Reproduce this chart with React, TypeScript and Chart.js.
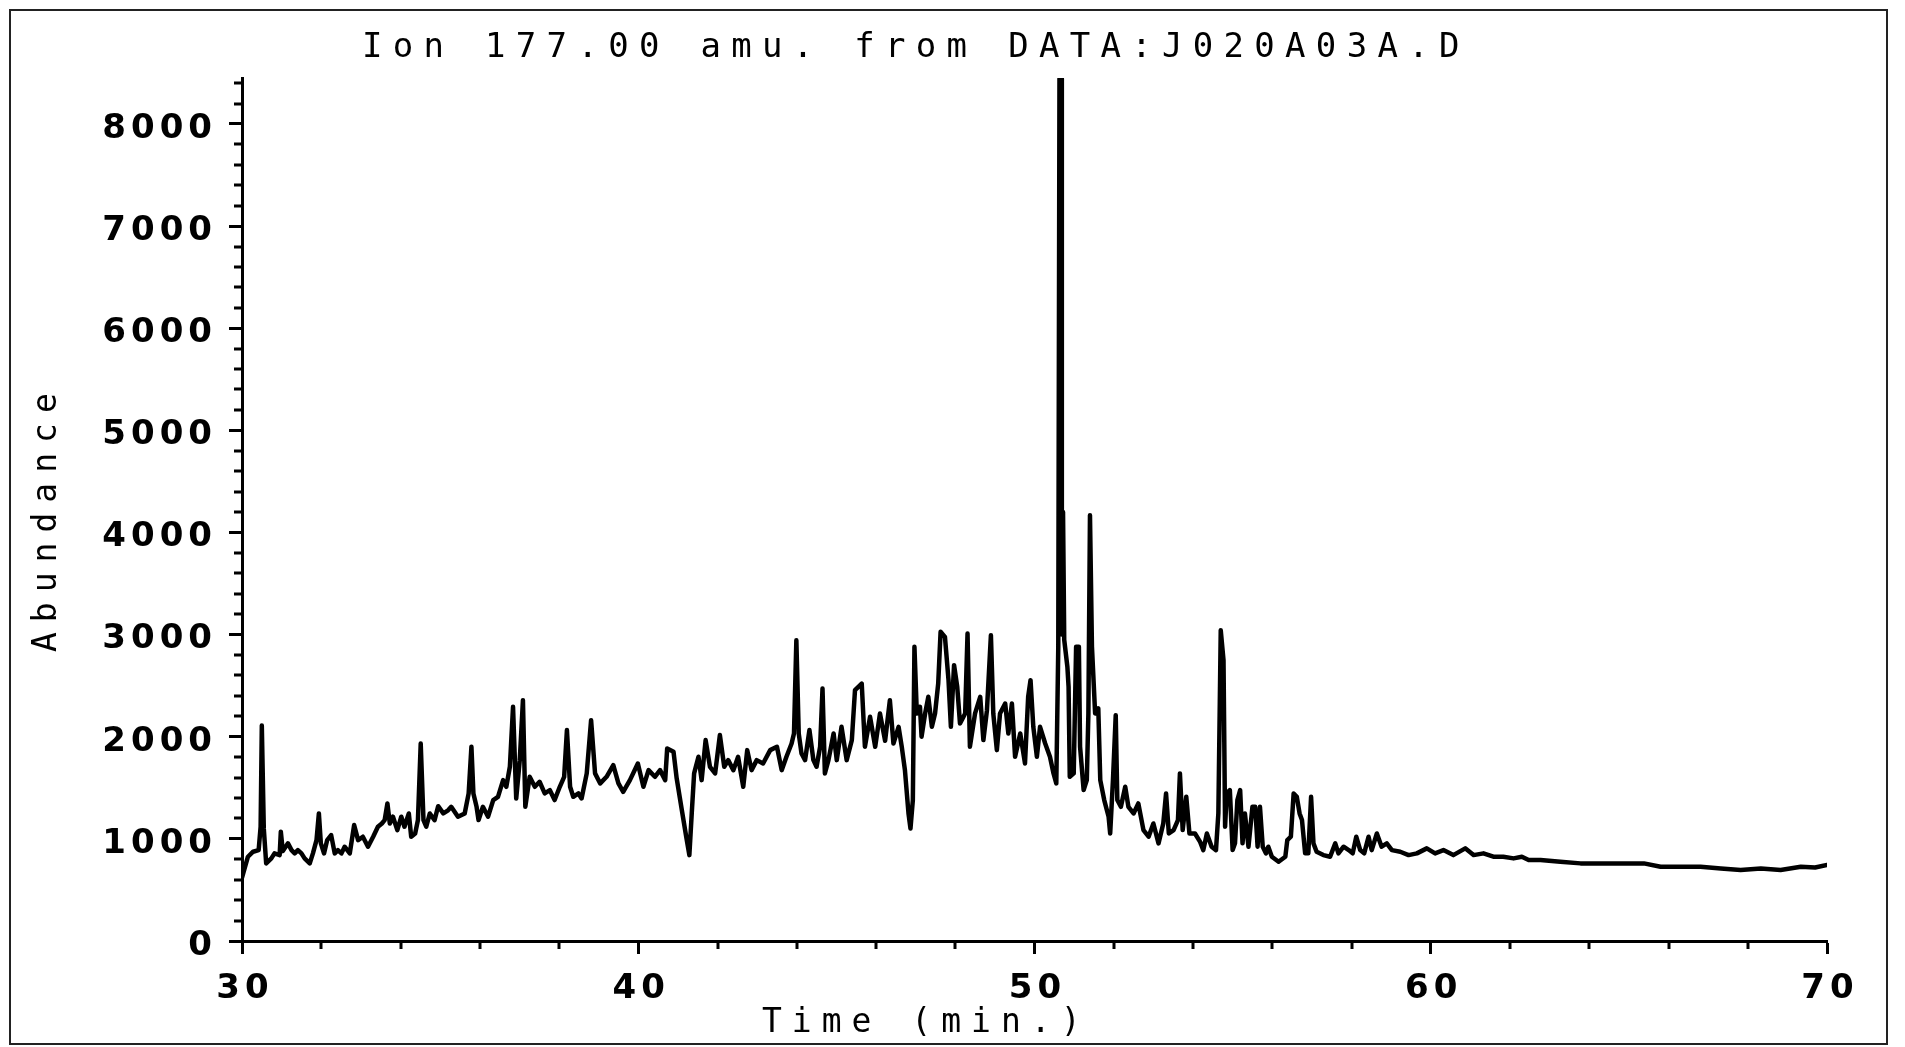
import React, { useEffect, useRef } from "react";
import { Chart, registerables } from "chart.js";

Chart.register(...registerables);

const TITLE = "Ion 177.00 amu. from DATA:J020A03A.D";
const X_TITLE = "Time (min.)";
const Y_TITLE = "Abundance";
const X_TICKS = [30, 40, 50, 60, 70];
const Y_TICKS = [0, 1000, 2000, 3000, 4000, 5000, 6000, 7000, 8000];
const X_MINOR_STEP = 2;
const Y_MINOR_STEP = 200;
const X_MIN = 30;
const X_MAX = 70;
const Y_MAX = 8450;

const timeMin = [
  30.0, 30.03, 30.15, 30.28, 30.42, 30.47, 30.5, 30.55, 30.61, 30.74, 30.82, 30.95, 30.98, 31.03, 31.16, 31.25,
  31.33, 31.41, 31.5, 31.58, 31.71, 31.79, 31.88, 31.94, 31.99, 32.07, 32.15, 32.25, 32.34, 32.42, 32.51, 32.59,
  32.72, 32.83, 32.93, 33.05, 33.18, 33.31, 33.43, 33.53, 33.6, 33.67, 33.73, 33.81, 33.92, 34.02, 34.1, 34.21,
  34.27, 34.37, 34.44, 34.51, 34.58, 34.65, 34.74, 34.86, 34.95, 35.08, 35.2, 35.28, 35.45, 35.62, 35.72, 35.79,
  35.84, 35.92, 35.97, 36.08, 36.21, 36.34, 36.46, 36.59, 36.67, 36.76, 36.84, 36.92, 37.01, 37.09, 37.15, 37.26,
  37.39, 37.51, 37.64, 37.77, 37.89, 38.02, 38.13, 38.2, 38.28, 38.36, 38.49, 38.57, 38.7, 38.81, 38.91, 39.04,
  39.2, 39.37, 39.5, 39.62, 39.79, 39.99, 40.13, 40.26, 40.42, 40.55, 40.68, 40.73, 40.89, 40.97, 41.1, 41.21,
  41.29, 41.35, 41.41, 41.52, 41.6, 41.7, 41.81, 41.94, 42.06, 42.17, 42.27, 42.4, 42.52, 42.65, 42.75, 42.86,
  42.99, 43.15, 43.33, 43.5, 43.62, 43.74, 43.87, 43.93, 43.99, 44.05, 44.12, 44.21, 44.32, 44.42, 44.5, 44.59,
  44.65, 44.71, 44.8, 44.93, 45.01, 45.13, 45.26, 45.39, 45.47, 45.64, 45.72, 45.85, 45.98, 46.1, 46.23, 46.35,
  46.44, 46.57, 46.65, 46.73, 46.82, 46.87, 46.93, 46.97, 47.03, 47.11, 47.15, 47.24, 47.32, 47.41, 47.49, 47.57,
  47.63, 47.74, 47.83, 47.89, 47.97, 48.05, 48.12, 48.25, 48.31, 48.37, 48.5, 48.63, 48.71, 48.8, 48.9, 48.96,
  49.05, 49.13, 49.26, 49.34, 49.43, 49.51, 49.64, 49.76, 49.84, 49.9, 49.97, 50.06, 50.14, 50.27, 50.39, 50.48,
  50.55, 50.6, 50.63, 50.67, 50.69, 50.72, 50.75, 50.83, 50.86, 50.89, 50.99, 51.05, 51.12, 51.15, 51.24, 51.32,
  51.36, 51.4, 51.45, 51.53, 51.61, 51.66, 51.76, 51.87, 51.91, 51.98, 52.05, 52.09, 52.18, 52.29, 52.37, 52.5,
  52.62, 52.75, 52.88, 53.0, 53.13, 53.25, 53.32, 53.39, 53.51, 53.62, 53.67, 53.74, 53.83, 53.91, 54.05, 54.18,
  54.26, 54.35, 54.47, 54.58, 54.64, 54.7, 54.77, 54.81, 54.85, 54.93, 55.0, 55.06, 55.12, 55.19, 55.25, 55.31,
  55.4, 55.5, 55.57, 55.63, 55.69, 55.76, 55.84, 55.9, 55.99, 56.16, 56.33, 56.38, 56.47, 56.54, 56.62, 56.69,
  56.75, 56.83, 56.91, 56.98, 57.04, 57.12, 57.29, 57.46, 57.59, 57.67, 57.8, 57.93, 58.03, 58.12, 58.22, 58.32,
  58.43, 58.51, 58.64, 58.76, 58.89, 59.02, 59.23, 59.44, 59.65, 59.9, 60.11, 60.32, 60.57, 60.87, 61.08, 61.33,
  61.58, 61.83, 62.09, 62.3, 62.47, 62.77, 63.27, 63.78, 64.28, 64.79, 65.38, 65.8, 66.31, 66.81, 67.32, 67.82,
  68.33, 68.83, 69.34, 69.7, 70.0,
];

const abundance = [
  620, 662, 825, 874, 890, 1119, 2110, 1100, 760, 809, 858, 841, 1070, 880, 956, 890,
  858, 890, 858, 809, 760, 858, 988, 1249, 956, 858, 988, 1037, 858, 890, 858, 923,
  858, 1135, 988, 1021, 923, 1021, 1119, 1151, 1184, 1347, 1151, 1217, 1086, 1217, 1119, 1249,
  1021, 1053, 1184, 1934, 1184, 1119, 1249, 1184, 1320, 1250, 1280, 1314, 1217, 1249, 1445, 1902,
  1445, 1314, 1184, 1314, 1217, 1380, 1412, 1575, 1510, 1706, 2293, 1396, 1771, 2358, 1314, 1608,
  1510, 1559, 1445, 1477, 1380, 1510, 1608, 2065, 1510, 1412, 1445, 1396, 1641, 2162, 1641, 1543,
  1608, 1722, 1543, 1461, 1575, 1738, 1510, 1673, 1608, 1673, 1575, 1885, 1853, 1592, 1282, 1021,
  841, 1249, 1641, 1804, 1575, 1967, 1706, 1641, 2016, 1706, 1771, 1673, 1804, 1510, 1869, 1673,
  1771, 1738, 1869, 1902, 1673, 1804, 1934, 2032, 2945, 2032, 1836, 1771, 2065, 1771, 1706, 1902,
  2472, 1641, 1771, 2032, 1771, 2097, 1771, 1967, 2456, 2521, 1902, 2195, 1902, 2228, 1960, 2358,
  1934, 2097, 1902, 1673, 1249, 1102, 1380, 2880, 2228, 2293, 2000, 2228, 2391, 2097, 2228, 2521,
  3027, 2978, 2554, 2097, 2701, 2489, 2130, 2228, 3010, 1902, 2228, 2391, 1967, 2260, 2994, 2228,
  1869, 2228, 2325, 2032, 2325, 1804, 2032, 1738, 2391, 2554, 2097, 1804, 2097, 1934, 1804, 1641,
  1543, 2880, 8440, 8440, 3000, 4200, 2950, 2684, 2489, 1608, 1641, 2880, 2880, 1902, 1478, 1575,
  2228, 4168, 2880, 2228, 2277, 1575, 1380, 1217, 1053, 1575, 2211, 1380, 1314, 1510, 1314, 1249,
  1347, 1086, 1021, 1151, 956, 1151, 1445, 1053, 1086, 1184, 1641, 1086, 1412, 1053, 1053, 970,
  890, 1053, 923, 890, 1249, 3043, 2750, 1119, 1445, 1477, 890, 956, 1380, 1477, 956, 1249,
  923, 1314, 1314, 923, 1314, 923, 858, 923, 825, 776, 825, 988, 1021, 1445, 1412, 1249,
  1184, 858, 858, 1412, 956, 874, 841, 825, 956, 858, 923, 890, 858, 1021, 890, 858,
  1021, 890, 1053, 923, 956, 890, 874, 841, 858, 907, 858, 890, 841, 907, 841, 858,
  825, 825, 809, 825, 793, 793, 776, 760, 760, 760, 760, 727, 727, 727, 711, 695,
  711, 695, 727, 720, 744,
];

const MONO = "'DejaVu Sans Mono', monospace";
const TICK_FONT = "'DejaVu Sans', sans-serif";
const TICK_SPACING = "5px";

const overlayPlugin = {
  id: "overlay",
  beforeDraw(chart: any) {
    chart.ctx.letterSpacing = TICK_SPACING;
  },
  afterDraw(chart: any) {
    const ctx = chart.ctx;
    const xs = chart.scales.x;
    const ys = chart.scales.y;
    const area = chart.chartArea;
    ctx.save();
    // minor ticks
    ctx.strokeStyle = "#000";
    ctx.lineWidth = 3;
    ctx.beginPath();
    for (let v = X_MIN; v <= X_MAX + 1e-6; v += X_MINOR_STEP) {
      if (Math.abs(v % 10) < 1e-6) continue;
      const px = Math.round(xs.getPixelForValue(v));
      ctx.moveTo(px, area.bottom);
      ctx.lineTo(px, area.bottom + 8);
    }
    for (let v = 0; v <= Y_MAX + 1e-6; v += Y_MINOR_STEP) {
      if (Math.abs(v % 1000) < 1e-6) continue;
      const py = Math.round(ys.getPixelForValue(v));
      ctx.moveTo(area.left - 8, py);
      ctx.lineTo(area.left, py);
    }
    ctx.stroke();

    // texts
    ctx.fillStyle = "#000";
    ctx.letterSpacing = "10.3px";
    ctx.textAlign = "left";
    ctx.textBaseline = "alphabetic";
    ctx.font = `34px ${MONO}`;
    ctx.fillText(TITLE, 362, 57);

    ctx.letterSpacing = "10px";
    ctx.font = `33px ${MONO}`;
    ctx.fillText(X_TITLE, 762, 1032);

    ctx.save();
    ctx.translate(56, 652);
    ctx.rotate(-Math.PI / 2);
    ctx.fillText(Y_TITLE, 0, 0);
    ctx.restore();

    // page frame
    ctx.strokeStyle = "#222";
    ctx.lineWidth = 2;
    ctx.strokeRect(10, 10, 1877, 1034);
    ctx.restore();
  },
};

export default function App() {
  const canvasRef = useRef<HTMLCanvasElement | null>(null);

  useEffect(() => {
    document.body.style.margin = "0";
    const canvas = canvasRef.current;
    if (!canvas) return;
    const points = timeMin.map((t, i) => ({ x: t, y: abundance[i] }));
    const tickFont = { family: TICK_FONT, size: 34, weight: "bold" as const };
    const chart = new Chart(canvas, {
      type: "line",
      data: {
        datasets: [
          {
            data: points,
            borderColor: "#000",
            borderWidth: 4.5,
            pointRadius: 0,
            tension: 0,
            fill: false,
            borderJoinStyle: "round",
            borderCapStyle: "round",
          },
        ],
      },
      options: {
        animation: false,
        responsive: false,
        devicePixelRatio: 1,
        parsing: false,
        layout: { padding: { top: 78, right: 78, left: 0, bottom: 0 } },
        plugins: {
          legend: { display: false },
          tooltip: { enabled: false },
          title: { display: false },
        },
        scales: {
          x: {
            type: "linear",
            min: X_MIN,
            max: X_MAX,
            afterBuildTicks: (s: any) => {
              s.ticks = X_TICKS.map((v) => ({ value: v }));
            },
            afterFit: (s: any) => {
              s.height = 106;
            },
            ticks: {
              font: tickFont,
              color: "#000",
              padding: 15,
              labelOffset: 3,
              maxRotation: 0,
              autoSkip: false,
              callback: (v: any) => String(v),
            },
            grid: {
              drawOnChartArea: false,
              drawTicks: true,
              tickLength: 13,
              tickWidth: 3,
              tickColor: "#000",
            },
            border: { display: true, color: "#000", width: 3 },
          },
          y: {
            type: "linear",
            min: 0,
            max: Y_MAX,
            afterBuildTicks: (s: any) => {
              s.ticks = Y_TICKS.map((v) => ({ value: v }));
            },
            afterFit: (s: any) => {
              s.width = 242;
            },
            ticks: {
              font: tickFont,
              color: "#000",
              padding: 12,
              labelOffset: 5,
              autoSkip: false,
              callback: (v: any) => String(v),
            },
            grid: {
              drawOnChartArea: false,
              drawTicks: true,
              tickLength: 13,
              tickWidth: 3,
              tickColor: "#000",
            },
            border: { display: true, color: "#000", width: 3 },
          },
        },
      },
      plugins: [overlayPlugin],
    } as any);
    return () => chart.destroy();
  }, []);

  return (
    <div style={{ width: 1905, height: 1047, background: "#fff" }}>
      <canvas ref={canvasRef} width={1905} height={1047} style={{ display: "block" }} />
    </div>
  );
}
